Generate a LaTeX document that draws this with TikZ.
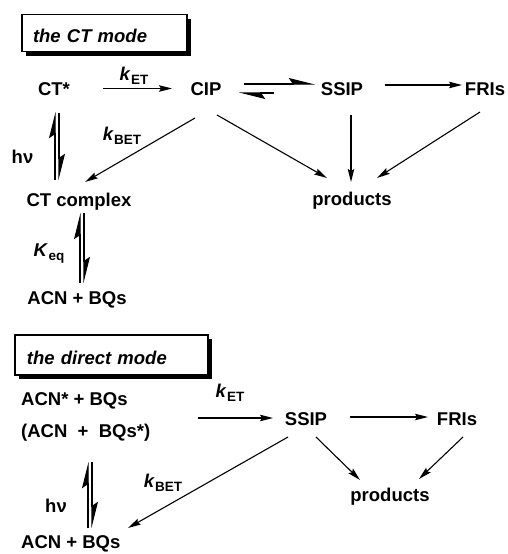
\documentclass[tikz,border=0pt]{standalone}
\usepackage{fontspec}
\setmainfont{Liberation Sans}
\usetikzlibrary{arrows.meta,shadows}
\newcommand{\rate}[2]{\textit{#1}\kern0.3pt\raisebox{-4pt}{\fontsize{13.5}{13}\selectfont #2}}
\begin{document}
\begin{tikzpicture}[x=1pt,y=-1pt,
  lbl/.style={font=\fontsize{18.5}{22}\selectfont\bfseries, inner sep=0pt, text height=13.2pt, text depth=0pt},
  modebox/.style={draw, line width=1.1pt, fill=white, font=\fontsize{18.5}{22}\selectfont\bfseries\itshape,
    align=left, inner ysep=0pt, text height=18pt, text depth=0pt,
    drop shadow={shadow xshift=4pt, shadow yshift=-4pt, fill=black, opacity=1}},
  arr/.style={line width=1.1pt, -{Stealth[length=13pt,width=6.5pt,inset=2pt]}},
  harp/.style={line width=1.1pt, -{Stealth[harpoon,length=24pt,width=12pt,inset=4pt]}},
]
\useasboundingbox (0,0) rectangle (508,554);

% ---------- the CT mode ----------
\node[modebox, text width=143pt, inner xsep=11pt, minimum height=37pt] (ctmode) at (104.5,33) {the CT mode};

\node[lbl] (ctstar) at (54,88.5) {CT*};
\node[lbl] (cip) at (206,88.5) {CIP};
\node[lbl] (ssip) at (342,88.5) {SSIP};
\node[lbl] (fris) at (485,88.5) {FRIs};
\node[lbl] (prod1) at (352,199) {products};
\node[lbl] (ctc) at (79,200) {CT complex};
\node[lbl] (acn1) at (77,297.5) {ACN + BQs};

\node[lbl] (ket1) at (134,74) {\rate{k}{ET}};
\node[lbl] (kbet1) at (122,134) {\rate{k}{BET}};
\node[lbl] (hv1) at (22.5,157) {hν};
\node[lbl] (keq) at (49,250) {\rate{K}{eq}};

\draw[arr] ([xshift=49pt]ctstar.center) -- ([xshift=-34pt]cip.center);
\draw[harp] ([xshift=38pt,yshift=4.5pt]cip.center) -- ([xshift=-27pt,yshift=4.5pt]ssip.center);
\draw[harp] ([xshift=-68pt,yshift=-4.5pt]ssip.center) -- ([xshift=33pt,yshift=-4.5pt]cip.center);
\draw[arr] ([xshift=43pt,yshift=3.5pt]ssip.center) -- ([xshift=-23pt,yshift=3.5pt]fris.center);
\draw[arr] ([xshift=11pt,yshift=-26.5pt]cip.center) -- ([xshift=-25pt,yshift=21pt]prod1.center);
\draw[arr] ([xshift=9pt,yshift=-26.5pt]ssip.center) -- ([xshift=-1pt,yshift=17pt]prod1.center);
\draw[arr] ([xshift=-5pt,yshift=-23.5pt]fris.center) -- ([xshift=25pt,yshift=21pt]prod1.center);
\draw[arr] ([xshift=-11pt,yshift=-29.5pt]cip.center) -- ([xshift=6pt,yshift=18pt]ctc.center);
\draw[harp] ([xshift=-24pt,yshift=20pt]ctc.center) -- ([xshift=1pt,yshift=-23.5pt]ctstar.center);
\draw[harp] ([xshift=5pt,yshift=-24.5pt]ctstar.center) -- ([xshift=-20pt,yshift=20pt]ctc.center);
\draw[harp] ([xshift=3pt,yshift=14.5pt]acn1.center) -- ([xshift=1pt,yshift=-13pt]ctc.center);
\draw[harp] ([xshift=5pt,yshift=-13pt]ctc.center) -- ([xshift=7pt,yshift=14.5pt]acn1.center);

% ---------- the direct mode ----------
\node[modebox, text width=169pt, inner xsep=12pt, minimum height=40pt] (dirmode) at (111.5,355) {the direct mode};

\node[lbl, anchor=west] (exc1) at (21,399) {ACN* + BQs};
\node[lbl, anchor=west] (exc2) at (21,431) {(ACN\ \ +\ \ BQs*)};
\node[lbl] (ssip2) at (306,419) {SSIP};
\node[lbl] (fris2) at (457,419) {FRIs};
\node[lbl] (prod2) at (390,495) {products};
\node[lbl, anchor=west] (acn2) at (21,542) {ACN + BQs};

\node[lbl] (ket2) at (230,391) {\rate{k}{ET}};
\node[lbl] (kbet2) at (163,481) {\rate{k}{BET}};
\node[lbl] (hv2) at (56,506) {hν};

\draw[arr] ([xshift=177pt,yshift=13pt]exc2.west) -- ([xshift=-33pt,yshift=1pt]ssip2.center);
\draw[arr] ([xshift=44pt,yshift=2pt]ssip2.center) -- ([xshift=-29pt,yshift=2pt]fris2.center);
\draw[arr] ([xshift=10pt,yshift=-18pt]ssip2.center) -- ([xshift=-30pt,yshift=15pt]prod2.center);
\draw[arr] ([xshift=6pt,yshift=-18pt]fris2.center) -- ([xshift=29pt,yshift=16pt]prod2.center);
\draw[arr] ([xshift=-18pt,yshift=-18pt]ssip2.center) -- ([xshift=107pt,yshift=14pt]acn2.west);
\draw[harp] ([xshift=67pt,yshift=14pt]acn2.west) -- ([xshift=67pt,yshift=-31pt]exc2.west);
\draw[harp] ([xshift=71pt,yshift=-31pt]exc2.west) -- ([xshift=71pt,yshift=14pt]acn2.west);
\end{tikzpicture}
\end{document}
